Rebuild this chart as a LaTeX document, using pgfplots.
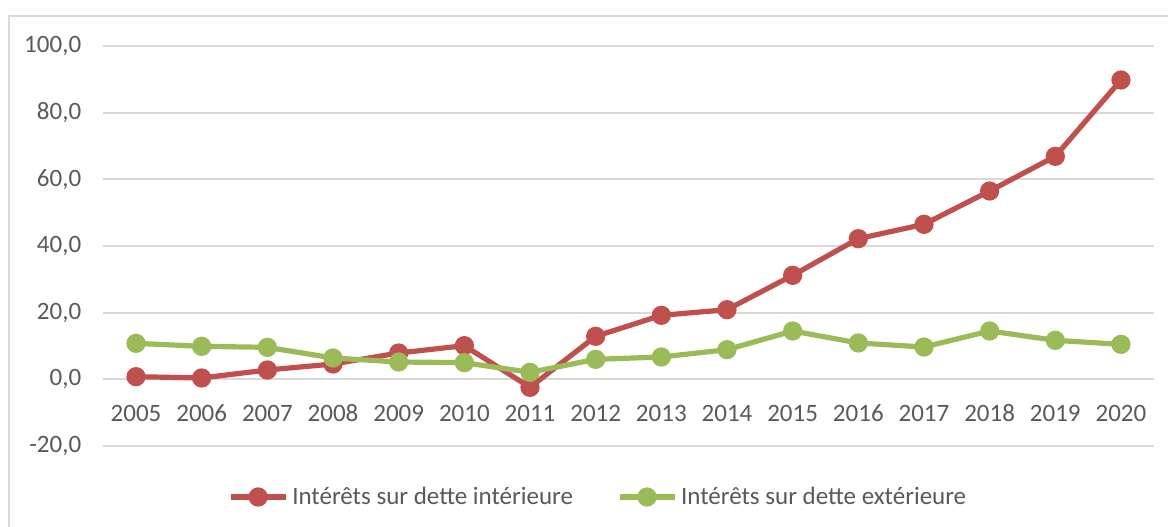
\documentclass[border=0pt]{standalone}
\usepackage{fontspec}
\setmainfont{Carlito}[Numbers={Lining}]
\usepackage{pgfplots}
\pgfplotsset{compat=1.18}
\definecolor{redS}{HTML}{C0504D}
\definecolor{greenS}{HTML}{9BBB59}
\definecolor{gridc}{HTML}{D9D9D9}
\definecolor{txt}{HTML}{595959}
\begin{document}
\begin{tikzpicture}
\useasboundingbox (-51.6bp,-40.5bp) rectangle (532.4bp,223bp);
\draw[gridc, line width=1bp] (-47.1bp,-60bp) -- (-47.1bp,215bp) -- (560bp,215bp);
\begin{axis}[
  at={(0,0)}, anchor=south west,
  scale only axis, width=525.3bp, height=200bp,
  xmin=-0.5, xmax=15.5, ymin=-20, ymax=100,
  axis x line=middle, axis y line*=left,
  x axis line style={draw=gridc, line width=1bp, -},
  y axis line style={draw=none},
  xtick={0,...,15},
  xticklabels={2005,2006,2007,2008,2009,2010,2011,2012,2013,2014,2015,2016,2017,2018,2019,2020},
  ytick={-20,0,20,40,60,80,100},
  tick style={draw=none},
  ymajorgrids, grid style={gridc, line width=1bp},
  tick label style={font=\fontsize{12.5bp}{15bp}\selectfont, text=txt},
  xticklabel style={anchor=north, text height=8.2bp, text depth=0pt, yshift=-7bp},
  yticklabel style={xshift=-7.5bp},
  /pgf/number format/.cd, fixed, fixed zerofill, precision=1, use comma, assume math mode=true,
  /pgfplots/.cd,
  legend columns=2,
  legend style={at={(axis description cs:0.472,-0.1275)}, anchor=center, draw=none, fill=none,
    font=\fontsize{12.5bp}{15bp}\selectfont, text=txt,
    /tikz/every even column/.append style={column sep=20bp}},
  legend image code/.code={\draw[#1,mark repeat=2,mark phase=2] plot coordinates {(0bp,0bp) (13.75bp,0bp) (27.5bp,0bp)};},
  clip=false,
]
\addplot[redS, line width=2.6bp, mark=*, mark size=3.5bp, mark options={solid}] coordinates {
(0,0.8) (1,0.4) (2,2.8) (3,4.6) (4,7.9) (5,10.1) (6,-2.4) (7,12.9) (8,19.2) (9,20.9) (10,31.2) (11,42.2) (12,46.5) (13,56.5) (14,66.9) (15,89.8)};
\addlegendentry{Intérêts sur dette intérieure}
\addplot[greenS, line width=2.6bp, mark=*, mark size=3.5bp, mark options={solid}] coordinates {
(0,10.8) (1,9.9) (2,9.6) (3,6.4) (4,5.2) (5,5.0) (6,2.1) (7,6.0) (8,6.7) (9,8.9) (10,14.5) (11,10.9) (12,9.7) (13,14.5) (14,11.7) (15,10.5)};
\addlegendentry{Intérêts sur dette extérieure}
\end{axis}
\end{tikzpicture}
\end{document}
